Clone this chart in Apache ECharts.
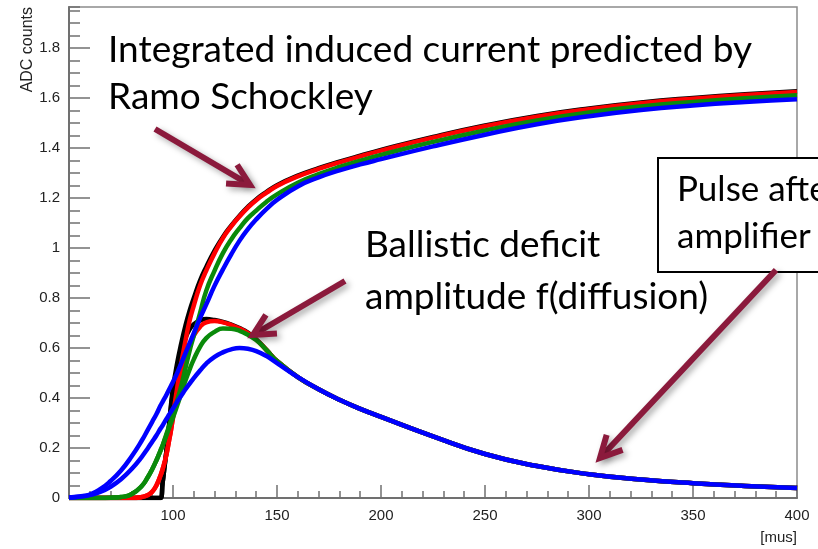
<!DOCTYPE html>
<html><head><meta charset="utf-8">
<script src="https://cdn.jsdelivr.net/npm/echarts@6/dist/echarts.min.js"></script>
<style>html,body{margin:0;padding:0;background:#fff}#c{width:818px;height:549px}</style>
</head><body><div id="c"></div>
<script>
const xs = [50,55,60,65,70,75,80,85,88,90,92,94,95,96,97,98,99,100,102,104,106,108,110,113,116,120,124,128,132,136,140,145,150,160,170,180,190,200,225,250,275,300,325,350,375,400];

const blackInt = [0,0,0,0,0,0,0,0,0,0,0,0, 0.06,0.13,0.2,0.28,0.37,0.44, 0.54,0.62,0.69,0.75,0.8, 0.87,0.925,0.99,1.045,1.09,1.13,1.165,1.195, 1.225,1.252,1.29,1.32,1.346,1.37,1.393, 1.445,1.491,1.529,1.559,1.583,1.601,1.616,1.628];
const redInt = [0,0,0,0,0,0,0, 0.004,0.012,0.025,0.05,0.09, 0.115,0.145,0.18,0.225,0.27,0.33, 0.44,0.54,0.63,0.71,0.77, 0.85,0.91,0.98,1.04,1.087,1.127,1.162,1.192, 1.222,1.249,1.287,1.317,1.343,1.367,1.39, 1.442,1.488,1.526,1.556,1.58,1.598,1.613,1.625];
const greenInt = [0,0,0,0,0.001,0.004,0.015, 0.048,0.085,0.115,0.15,0.19, 0.21,0.235,0.26,0.285,0.31,0.335, 0.39,0.45,0.52,0.59,0.65, 0.74,0.83,0.91,0.98,1.035,1.08,1.12,1.15, 1.186,1.215,1.262,1.296,1.325,1.35,1.373, 1.425,1.471,1.511,1.543,1.567,1.585,1.6,1.612];
const blueInt = [0.002,0.006,0.014,0.035,0.068,0.11,0.165, 0.23,0.275,0.305,0.335,0.37, 0.385,0.4,0.415,0.432,0.448,0.465, 0.5,0.54,0.58,0.62,0.66, 0.72,0.775,0.85,0.915,0.975,1.03,1.076,1.115, 1.157,1.193,1.247,1.283,1.311,1.335,1.356, 1.407,1.454,1.496,1.528,1.553,1.571,1.585,1.596];

const blackPulse = [0,0,0,0,0,0,0,0,0,0,0,0, 0.06,0.13,0.2,0.28,0.36,0.425, 0.52,0.59,0.64,0.675,0.695, 0.71,0.716,0.712,0.705,0.694,0.68,0.662,0.635, 0.592,0.548,0.484,0.435,0.393,0.357,0.325, 0.247,0.176,0.128,0.095,0.074,0.059,0.048,0.04];
const redPulse = [0,0,0,0,0,0,0, 0.004,0.012,0.025,0.05,0.09, 0.115,0.145,0.18,0.225,0.27,0.32, 0.41,0.49,0.56,0.61,0.65, 0.685,0.703,0.708,0.703,0.692,0.678,0.66,0.634, 0.592,0.548,0.484,0.435,0.393,0.357,0.325, 0.247,0.176,0.128,0.095,0.074,0.059,0.048,0.04];
const greenPulse = [0,0,0,0,0.001,0.004,0.015, 0.048,0.085,0.115,0.15,0.19, 0.21,0.232,0.255,0.278,0.3,0.322, 0.37,0.42,0.47,0.515,0.555, 0.605,0.64,0.665,0.678,0.677,0.669,0.653,0.632, 0.592,0.548,0.484,0.435,0.393,0.357,0.325, 0.247,0.176,0.128,0.095,0.074,0.059,0.048,0.04];
const bluePulse = [0.002,0.005,0.012,0.024,0.045,0.075,0.115, 0.165,0.2,0.225,0.25,0.278, 0.29,0.305,0.318,0.332,0.345,0.358, 0.385,0.41,0.435,0.458,0.48, 0.51,0.538,0.565,0.583,0.595,0.6,0.597,0.588, 0.568,0.54,0.484,0.435,0.393,0.357,0.325, 0.247,0.176,0.128,0.095,0.074,0.059,0.048,0.04];

const yTickLabels = ['0','0.2','0.4','0.6','0.8','1','1.2','1.4','1.6','1.8'];
const xTickLabels = ['100','150','200','250','300','350','400'];

const curveColors = {black:'#000000', red:'#ff0000', green:'#0a8a0a', blue:'#0000ff'};
const arrowColor = '#8b1a3c';

const chart = echarts.init(document.getElementById('c'), null, {renderer:'canvas'});

function mk(name, arr, color){
  return {name, type:'line', data: xs.map((x,i)=>[x, arr[i]]), showSymbol:false, smooth:0.5,
    lineStyle:{color, width:4.5}, itemStyle:{color}, animation:false, silent:true};
}

function arrow(t, p){
  const dx=p[0]-t[0], dy=p[1]-t[1], L=Math.hypot(dx,dy), ux=dx/L, uy=dy/L;
  const a=27*Math.PI/180, h=24;
  const rot=(x,y,g)=>[x*Math.cos(g)-y*Math.sin(g), x*Math.sin(g)+y*Math.cos(g)];
  const b1=rot(-ux,-uy,a), b2=rot(-ux,-uy,-a);
  const st = {stroke:arrowColor, lineWidth:6, fill:null, lineJoin:'miter', lineCap:'butt',
    shadowBlur:6, shadowColor:'rgba(0,0,0,0.35)', shadowOffsetX:3, shadowOffsetY:3};
  return [
    {type:'polyline', z:100, shape:{points:[t,[p[0]-ux*3,p[1]-uy*3]]}, style:st},
    {type:'polyline', z:100, shape:{points:[[p[0]+h*b1[0],p[1]+h*b1[1]], p, [p[0]+h*b2[0],p[1]+h*b2[1]]]}, style:st}
  ];
}

function txt(s, x, y, size){
  return {type:'text', z:101, x, y, style:{text:s, font:(size||37)+'px Lato', fill:'#000', align:'left', verticalAlign:'middle'}};
}

const option = {
  backgroundColor:'#ffffff',
  animation:false,
  grid:{left:69, right:21, top:7, bottom:51, show:true, borderColor:'#8c8c8c', borderWidth:1.5, backgroundColor:'transparent'},
  xAxis:{type:'value', min:50, max:400, interval:50,
    axisLine:{lineStyle:{color:'#707070', width:2}},
    axisTick:{inside:true, length:13, lineStyle:{color:'#707070', width:1.5}},
    minorTick:{show:true, splitNumber:5, length:7, lineStyle:{color:'#707070', width:1.5}},
    splitLine:{show:false},
    axisLabel:{showMinLabel:false, margin:10, color:'#222', fontSize:15, fontFamily:'Liberation Sans',
      formatter:(v)=>{const s=String(v); return xTickLabels.indexOf(s)>=0?s:'';}}
  },
  yAxis:[{type:'value', min:0, max:1.965, interval:0.2,
    axisLine:{show:true, lineStyle:{color:'#707070', width:2}},
    axisTick:{inside:true, length:21, lineStyle:{color:'#707070', width:1.5}},
    splitLine:{show:false},
    axisLabel:{showMaxLabel:false, margin:9, color:'#222', fontSize:15, fontFamily:'Liberation Sans',
      formatter:(v)=>{const s=String(Math.round(v*10)/10); return yTickLabels.indexOf(s)>=0?s:'';}}
  },{type:'value', min:0, max:1.965, interval:0.05, position:'left',
    axisLine:{show:false}, splitLine:{show:false}, axisLabel:{show:false},
    axisTick:{show:true, inside:true, length:11, lineStyle:{color:'#707070', width:1.5}}
  }],
  series:[
    mk('blackInt', blackInt, curveColors.black),
    mk('blackPulse', blackPulse, curveColors.black),
    mk('redInt', redInt, curveColors.red),
    mk('redPulse', redPulse, curveColors.red),
    mk('greenInt', greenInt, curveColors.green),
    mk('greenPulse', greenPulse, curveColors.green),
    mk('blueInt', blueInt, curveColors.blue),
    mk('bluePulse', bluePulse, curveColors.blue)
  ],
  graphic:[
    {type:'text', z:101, x:28, y:7, rotation:Math.PI/2,
      style:{text:'ADC counts', font:'16px "Liberation Sans"', fill:'#222', align:'right', verticalAlign:'middle'}},
    {type:'text', z:101, x:797, y:538,
      style:{text:'[mus]', font:'15px "Liberation Sans"', fill:'#222', align:'right', verticalAlign:'middle'}},
    txt('Integrated induced current predicted by', 108, 50),
    txt('Ramo Schockley', 108, 97),
    txt('Ballistic deficit', 365, 245),
    txt('amplitude f(diffusion)', 365, 297),
    {type:'rect', z:99, shape:{x:658, y:158, width:200, height:114}, style:{fill:'#fff', stroke:'#000', lineWidth:2}},
    txt('Pulse after', 677, 190, 35),
    txt('amplifier', 677, 237, 35),
    ...arrow([155,129],[250,185]),
    ...arrow([345,281],[253,335]),
    ...arrow([776,270],[600,458])
  ]
};
chart.setOption(option);
</script></body></html>
